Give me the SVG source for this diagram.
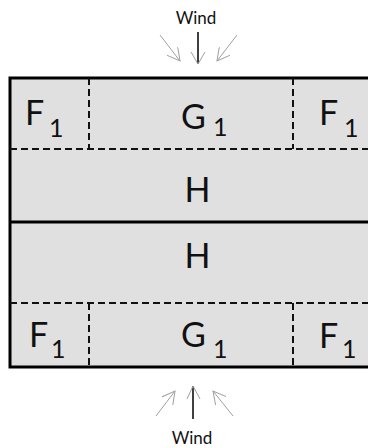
<svg xmlns="http://www.w3.org/2000/svg" width="368" height="448" viewBox="0 0 368 448">
<defs>
<style>
.lbl{font-family:Lato,"Noto Sans",sans-serif;font-size:34px;fill:#111}
.sub{font-family:Lato,"Noto Sans",sans-serif;font-size:25px;fill:#111}
.wind{font-family:Lato,"Noto Sans",sans-serif;font-size:17px;fill:#111;text-anchor:middle}
.dash{stroke:#111;stroke-width:2;stroke-dasharray:7 4;fill:none}
.gray{stroke:#a0a0a0;stroke-width:1;fill:none}
.blk{stroke:#000;stroke-width:1.5;fill:none}
</style>
<marker id="hd" viewBox="0 0 14 14" refX="13" refY="7" markerWidth="14" markerHeight="14" markerUnits="userSpaceOnUse" orient="auto">
<path d="M0,0 L13,7 L0,14" fill="none" stroke="#a0a0a0" stroke-width="1"/>
</marker>
</defs>
<rect width="368" height="448" fill="#fff"/>
<g id="building">
<rect x="10" y="78" width="380" height="289" fill="#e0e0e0" stroke="#000" stroke-width="3"/>
</g>
<g id="grid">
<line class="dash" x1="10" y1="149" x2="368" y2="149"/>
<line class="dash" x1="89" y1="78" x2="89" y2="149"/>
<line class="dash" x1="293" y1="78" x2="293" y2="149"/>
<line x1="10" y1="222" x2="368" y2="222" stroke="#000" stroke-width="3"/>
<line class="dash" x1="10" y1="303" x2="368" y2="303"/>
<line class="dash" x1="89" y1="303" x2="89" y2="367"/>
<line class="dash" x1="293" y1="303" x2="293" y2="367"/>
</g>
<g id="F1-top-left"><text class="lbl" x="25" y="125">F</text><text class="sub" x="49" y="137">1</text></g>
<g id="G1-top"><text class="lbl" x="181" y="129">G</text><text class="sub" x="213" y="136">1</text></g>
<g id="F1-top-right"><text class="lbl" x="319" y="125">F</text><text class="sub" x="344" y="137">1</text></g>
<g id="H-upper"><text class="lbl" x="197.5" y="202" text-anchor="middle">H</text></g>
<g id="H-lower"><text class="lbl" x="197.5" y="268" text-anchor="middle">H</text></g>
<g id="F1-bottom-left"><text class="lbl" x="29" y="347">F</text><text class="sub" x="51" y="358">1</text></g>
<g id="G1-bottom"><text class="lbl" x="181" y="347">G</text><text class="sub" x="213" y="358">1</text></g>
<g id="F1-bottom-right"><text class="lbl" x="319" y="348">F</text><text class="sub" x="342" y="358">1</text></g>
<g id="wind-top">
<text class="wind" x="196" y="24">Wind</text>
</g>
<g id="wind-bottom">
<text class="wind" x="192" y="444">Wind</text>
</g>
<g id="connectors">
<line class="blk" x1="198" y1="32" x2="198" y2="64"/>
<polyline class="gray" points="191,52 198,64 205,52"/>
<line class="gray" x1="160" y1="35" x2="180" y2="61" marker-end="url(#hd)"/>
<line class="gray" x1="237" y1="35" x2="217" y2="61" marker-end="url(#hd)"/>
<line class="blk" x1="193" y1="419" x2="193" y2="386"/>
<polyline class="gray" points="187,399 193,386 200,399"/>
<line class="gray" x1="156" y1="416" x2="175" y2="391" marker-end="url(#hd)"/>
<line class="gray" x1="233" y1="416" x2="213" y2="391" marker-end="url(#hd)"/>
</g>
</svg>
